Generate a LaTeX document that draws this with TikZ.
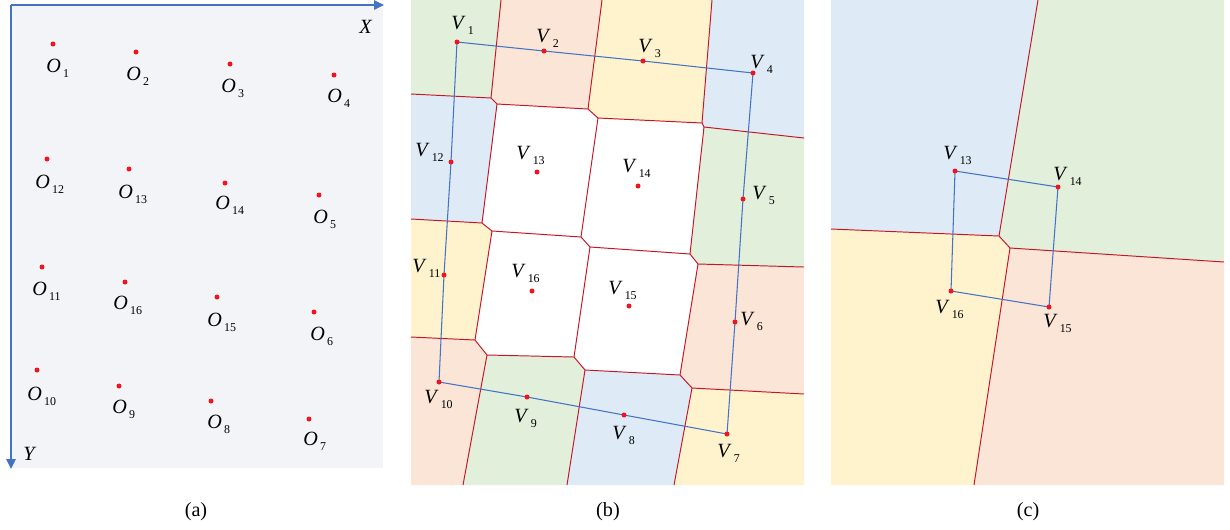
\documentclass[tikz,border=0pt]{standalone}
\usepackage{fontspec}
\setmainfont{Liberation Serif}
\usepackage{xcolor}
\usepackage{tikz}
\usetikzlibrary{arrows.meta,positioning}
\definecolor{panelgray}{RGB}{243,244,247}
\definecolor{axisblue}{RGB}{68,114,196}
\definecolor{edgered}{RGB}{196,22,38}
\definecolor{dotred}{RGB}{240,20,30}
\definecolor{cellgreen}{RGB}{226,239,218}
\definecolor{cellpink}{RGB}{251,229,214}
\definecolor{cellyellow}{RGB}{255,243,206}
\definecolor{cellblue}{RGB}{222,235,247}
\newcommand{\ptname}[2]{\textit{#1}\kern1.2pt\raisebox{-3.2pt}{\fontsize{6.8}{7}\selectfont#2}}
\tikzset{
  ptlbl/.style={anchor=base west, inner sep=0pt},
  vedge/.style={draw=edgered, line width=0.55pt, line join=round},
  route/.style={draw=axisblue, line width=0.6pt, line join=round},
  axis/.style={draw=axisblue, line width=0.9pt, -{Triangle[length=2mm,width=1.9mm]}},
}

\begin{document}
\begin{tikzpicture}[x=0.02cm, y=-0.02cm, font=\fontsize{11.5}{13}\selectfont]
  \useasboundingbox (0,0) rectangle (1230,529);

  \fill[panelgray] (11,5) rectangle (383,468);
  \coordinate (orig) at (11,5);
  \coordinate (xend) at (384,5);
  \coordinate (yend) at (11,469);
  \draw[axis] (orig) -- (xend);
  \draw[axis] (orig) -- (yend);
  \node[ptlbl] (xlbl) at (359,33) {\textit{X}};
  \node[ptlbl] (ylbl) at (23,460) {\textit{Y}};
  \foreach \i/\x/\y/\lx/\ly in {1/53/44/46/72, 2/136/52/126/80, 3/230/64/221/92,
      4/334/75/327/102, 12/47/159/35/188, 13/129/169/118/198, 14/225/183/215/209,
      5/319/195/313/223, 11/42/267/32/295, 16/125/282/113/309, 15/217/297/207/326,
      6/314/312/310/340, 10/37/370/27/400, 9/119/386/112/413, 8/211/401/207/428,
      7/309/419/303/445}{
    \coordinate (O\i) at (\x,\y);
    \fill[dotred] (O\i) circle[radius=0.05cm];
    \node[ptlbl] (lO\i) at (\lx,\ly) {\ptname{O}{\i}};
  }

  \coordinate (bnw) at (411,0);
  \coordinate (bne) at (804,0);
  \coordinate (bse) at (804,485);
  \coordinate (bsw) at (411,485);
  \coordinate (t1) at (501,0);   \coordinate (t2) at (602,0);   \coordinate (t3) at (712,0);
  \coordinate (l1) at (411,94);  \coordinate (l2) at (411,219); \coordinate (l3) at (411,337);
  \coordinate (r1) at (804,138); \coordinate (r2) at (804,267); \coordinate (r3) at (804,394);
  \coordinate (b1) at (463,485); \coordinate (b2) at (567,485); \coordinate (b3) at (674,485);
  \coordinate (a1) at (491,98);  \coordinate (a2) at (497,104);
  \coordinate (c1) at (588,109); \coordinate (c2) at (598,118);
  \coordinate (d1) at (702,123); \coordinate (d2) at (704,127);
  \coordinate (e1) at (482,223); \coordinate (e2) at (492,231);
  \coordinate (f1) at (581,237); \coordinate (f2) at (590,247);
  \coordinate (g1) at (690,254); \coordinate (g2) at (698,264);
  \coordinate (h1) at (475,340); \coordinate (h2) at (487,355);
  \coordinate (i1) at (574,357); \coordinate (i2) at (585,370);
  \coordinate (j1) at (680,375); \coordinate (j2) at (692,388);

  \fill[white] (bnw) rectangle (bse);
  \fill[cellgreen]  (bnw) -- (t1) -- (a1) -- (l1) -- cycle;
  \fill[cellpink]   (t1) -- (t2) -- (c1) -- (a2) -- (a1) -- cycle;
  \fill[cellyellow] (t2) -- (t3) -- (d1) -- (c2) -- (c1) -- cycle;
  \fill[cellblue]   (t3) -- (bne) -- (r1) -- (d2) -- (d1) -- cycle;
  \fill[cellblue]   (l1) -- (a1) -- (a2) -- (e1) -- (l2) -- cycle;
  \fill[cellgreen]  (d2) -- (r1) -- (r2) -- (g2) -- (g1) -- cycle;
  \fill[cellyellow] (l2) -- (e1) -- (e2) -- (h1) -- (l3) -- cycle;
  \fill[cellpink]   (g2) -- (r2) -- (r3) -- (j2) -- (j1) -- cycle;
  \fill[cellpink]   (l3) -- (h1) -- (h2) -- (b1) -- (bsw) -- cycle;
  \fill[cellgreen]  (h2) -- (i1) -- (i2) -- (b2) -- (b1) -- cycle;
  \fill[cellblue]   (i2) -- (j1) -- (j2) -- (b3) -- (b2) -- cycle;
  \fill[cellyellow] (j2) -- (r3) -- (bse) -- (b3) -- cycle;

  \draw[vedge] (t1) -- (a1) -- (a2) -- (e1) -- (e2) -- (h1) -- (h2) -- (b1);
  \draw[vedge] (a2) -- (c1) -- (c2) -- (f1) -- (f2) -- (i1) -- (i2) -- (b2);
  \draw[vedge] (c2) -- (d1) -- (d2) -- (g1) -- (g2) -- (j1) -- (j2) -- (b3);
  \draw[vedge] (l1) -- (a1)  (t2) -- (c1)  (t3) -- (d1)  (d2) -- (r1);
  \draw[vedge] (l2) -- (e1)  (e2) -- (f1)  (f2) -- (g1)  (g2) -- (r2);
  \draw[vedge] (l3) -- (h1)  (h2) -- (i1)  (i2) -- (j1)  (j2) -- (r3);

  \foreach \i/\x/\y/\lx/\ly in {1/457/42/451/29, 2/544/51/536/42, 3/643/61/638/52,
      4/753/73/750/68, 5/743/199/752/199, 6/735/322/740/325, 7/727/434/717/457,
      8/624/415/612/439, 9/527/397/514/422, 10/439/382/424/403, 11/444/275/412/272,
      12/451/162/415/156, 13/537/172/516/159, 14/638/186/622/172, 15/629/306/608/294,
      16/532/291/511/277}{
    \coordinate (V\i) at (\x,\y);
    \node[ptlbl] (lV\i) at (\lx,\ly) {\ptname{V}{\i}};
  }
  \draw[route] (V1) -- (V2) -- (V3) -- (V4) -- (V5) -- (V6) -- (V7) -- (V8)
    -- (V9) -- (V10) -- (V11) -- (V12) -- cycle;
  \foreach \i in {1,...,16}{
    \fill[dotred] (V\i) circle[radius=0.05cm];
  }

  \coordinate (cnw) at (831,0);
  \coordinate (cne) at (1224,0);
  \coordinate (cse) at (1224,485);
  \coordinate (csw) at (831,485);
  \coordinate (ct) at (1038,0);
  \coordinate (cl) at (831,229);
  \coordinate (cr) at (1224,262);
  \coordinate (cb) at (974,485);
  \coordinate (p1) at (999,236);
  \coordinate (p2) at (1010,248);
  \fill[cellblue]   (cnw) -- (ct) -- (p1) -- (cl) -- cycle;
  \fill[cellgreen]  (ct) -- (cne) -- (cr) -- (p2) -- (p1) -- cycle;
  \fill[cellyellow] (cl) -- (p1) -- (p2) -- (cb) -- (csw) -- cycle;
  \fill[cellpink]   (p2) -- (cr) -- (cse) -- (cb) -- cycle;
  \draw[vedge] (ct) -- (p1) -- (p2) -- (cb);
  \draw[vedge] (cl) -- (p1)  (p2) -- (cr);

  \foreach \i/\x/\y/\lx/\ly in {13/955/171/943/159, 14/1058/187/1053/180,
      15/1049/307/1043/327, 16/951/291/935/313}{
    \coordinate (W\i) at (\x,\y);
    \node[ptlbl] (lW\i) at (\lx,\ly) {\ptname{V}{\i}};
  }
  \draw[route] (W13) -- (W14) -- (W15) -- (W16) -- cycle;
  \foreach \i in {13,...,16}{
    \fill[dotred] (W\i) circle[radius=0.05cm];
  }

  \node[font=\fontsize{11.5}{13}\selectfont] (capa) at (196,512) {(a)};
  \node[font=\fontsize{11.5}{13}\selectfont] (capb) at (608,512) {(b)};
  \node[font=\fontsize{11.5}{13}\selectfont] (capc) at (1028,512) {(c)};
\end{tikzpicture}
\end{document}
